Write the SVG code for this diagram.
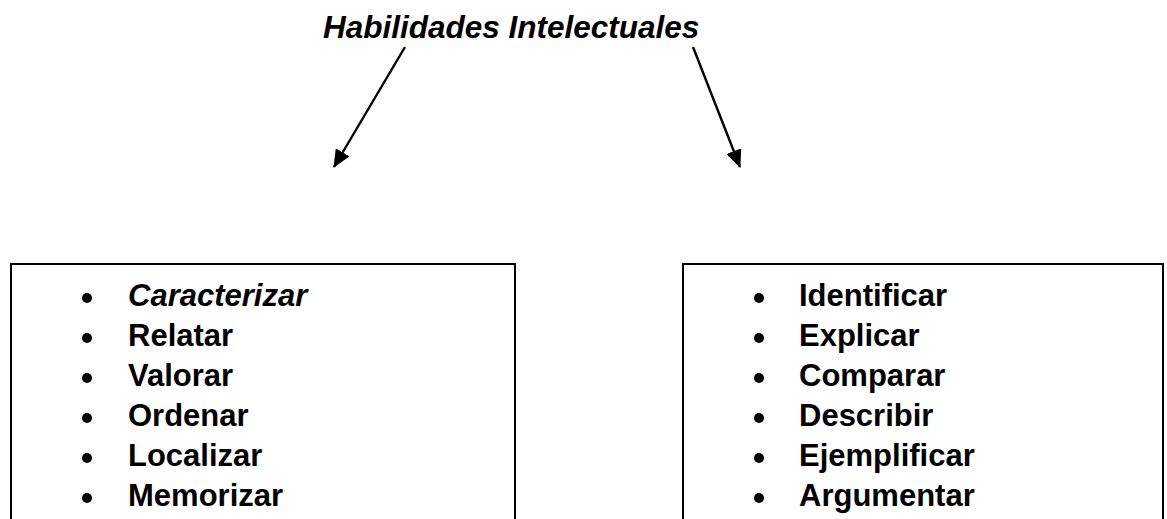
<svg xmlns="http://www.w3.org/2000/svg" width="1167" height="519" viewBox="0 0 1167 519">
<style>
.t{font-family:"Liberation Sans",Arial,sans-serif;font-weight:bold;fill:#000}
.title{font-size:31.5px;font-style:italic}
.item{font-size:31px}
.box{fill:#fff;stroke:#000;stroke-width:2}
.conn{stroke:#000;stroke-width:2.4;fill:none}
</style>
<defs>
<marker id="ah" viewBox="0 0 18 16" refX="17" refY="8" markerWidth="18" markerHeight="16" markerUnits="userSpaceOnUse" orient="auto">
<path d="M0,0 L18,8 L0,16 z" fill="#000"/>
</marker>
</defs>
<rect width="1167" height="519" fill="#fff"/>
<g id="title">
<text class="t title" x="323" y="38">Habilidades Intelectuales</text>
</g>
<g id="connectors">
<line class="conn" x1="405" y1="47" x2="334" y2="167" marker-end="url(#ah)"/>
<line class="conn" x1="693" y1="47" x2="740" y2="167" marker-end="url(#ah)"/>
</g>
<g id="left-box">
<rect class="box" x="11" y="264" width="504" height="270"/>
<g fill="#000">
<circle cx="87" cy="298" r="5"/>
<circle cx="87" cy="338" r="5"/>
<circle cx="87" cy="378" r="5"/>
<circle cx="87" cy="418" r="5"/>
<circle cx="87" cy="458" r="5"/>
<circle cx="87" cy="498" r="5"/>
</g>
<text class="t item" x="128" y="306" font-style="italic">Caracterizar</text>
<text class="t item" x="128" y="346">Relatar</text>
<text class="t item" x="128" y="386">Valorar</text>
<text class="t item" x="128" y="426">Ordenar</text>
<text class="t item" x="128" y="466">Localizar</text>
<text class="t item" x="128" y="506">Memorizar</text>
</g>
<g id="right-box">
<rect class="box" x="683" y="264" width="480" height="270"/>
<g fill="#000">
<circle cx="759" cy="298" r="5"/>
<circle cx="759" cy="338" r="5"/>
<circle cx="759" cy="378" r="5"/>
<circle cx="759" cy="418" r="5"/>
<circle cx="759" cy="458" r="5"/>
<circle cx="759" cy="498" r="5"/>
</g>
<text class="t item" x="799" y="306">Identificar</text>
<text class="t item" x="799" y="346">Explicar</text>
<text class="t item" x="799" y="386">Comparar</text>
<text class="t item" x="799" y="426">Describir</text>
<text class="t item" x="799" y="466">Ejemplificar</text>
<text class="t item" x="799" y="506">Argumentar</text>
</g>
</svg>
